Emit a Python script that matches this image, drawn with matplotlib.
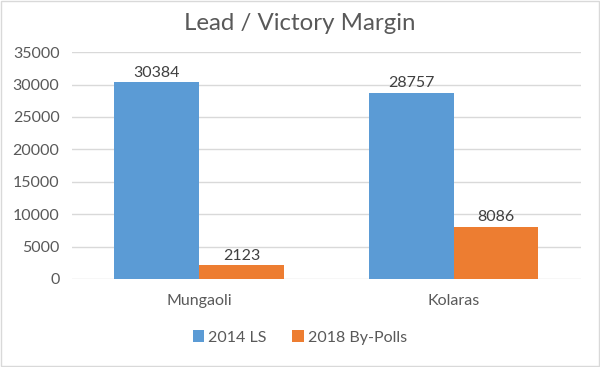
import matplotlib.pyplot as plt
import numpy as np

plt.rcParams['font.family'] = ['Lato', 'DejaVu Sans']

# Data
categories = ["Mungaoli", "Kolaras"]
ls_2014 = [30384, 28757]
bypolls_2018 = [2123, 8086]
series_names = ["2014 LS", "2018 By-Polls"]

blue = "#5B9BD5"
orange = "#ED7D31"
txt = "#595959"

fig = plt.figure(figsize=(6, 3.67), dpi=100)
ax = fig.add_axes([0.12, 0.24, 0.848, 0.618])

x = np.arange(len(categories))
w = 1 / 3
b1 = ax.bar(x - w / 2, ls_2014, w, color=blue, label=series_names[0], zorder=3)
b2 = ax.bar(x + w / 2, bypolls_2018, w, color=orange, label=series_names[1], zorder=3)

for bars in (b1, b2):
    for r in bars:
        ax.text(r.get_x() + r.get_width() / 2, r.get_height() + 350, str(int(r.get_height())),
                ha='center', va='bottom', fontsize=11.5, color="#404040")

ax.set_xlim(-0.5, 1.5)
ax.set_ylim(0, 35000)
ax.set_yticks(range(0, 35001, 5000))
ax.set_xticks(x)
ax.set_xticklabels(categories)
ax.tick_params(axis='both', length=0, labelsize=11.5, colors=txt)
ax.tick_params(axis='y', pad=9)
ax.tick_params(axis='x', pad=11)
ax.grid(axis='y', color="#D9D9D9", linewidth=1, zorder=0)
for s in ax.spines.values():
    s.set_visible(False)

fig.suptitle("Lead / Victory Margin", y=0.965, fontsize=17.3, color=txt)
fig.legend(loc='center', bbox_to_anchor=(0.5, 0.08), ncol=2, frameon=False,
           fontsize=11.5, labelcolor=txt, handlelength=0.75, handleheight=0.75,
           handletextpad=0.25, columnspacing=1.6)

# light border round the chart area
fig.patches.append(plt.Rectangle((0.002, 0.002), 0.996, 0.996, transform=fig.transFigure,
                                 fill=False, edgecolor="#D9D9D9", linewidth=1))

plt.savefig("out.png")
